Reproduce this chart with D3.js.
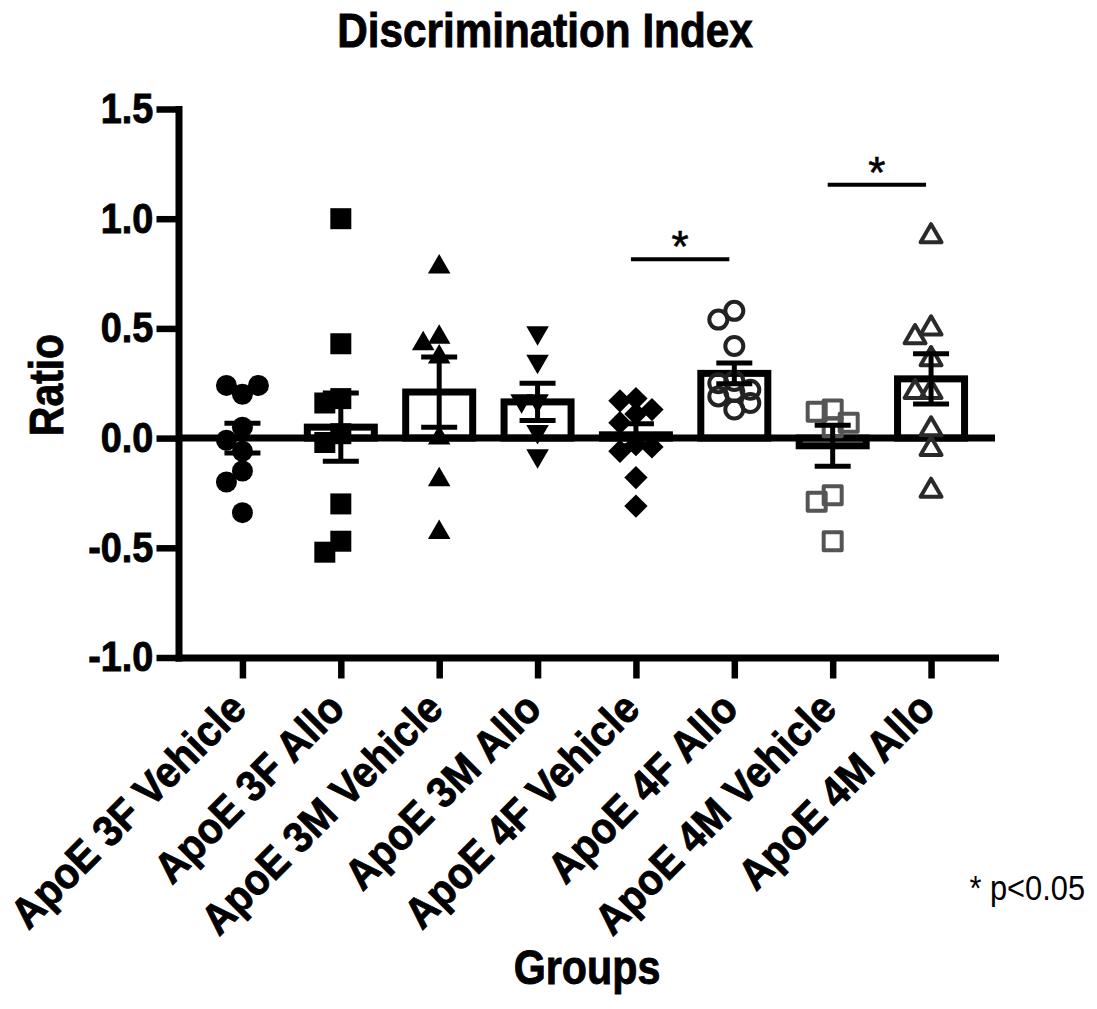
<!DOCTYPE html>
<html>
<head>
<meta charset="utf-8">
<script src="https://cdn.jsdelivr.net/npm/d3@7"></script>
<style>
body { margin: 0; background: #fff; }
text { font-family: "Liberation Sans", Arial, Helvetica, sans-serif; }
.heavy { stroke: #000; stroke-width: 0.9; }
</style>
</head>
<body>
<div id="chart"></div>
<script>
//Chart size
var width = 1097;
var height = 1009;

//Data
var groups = ["ApoE 3F Vehicle", "ApoE 3F Allo", "ApoE 3M Vehicle", "ApoE 3M Allo",
              "ApoE 4F Vehicle", "ApoE 4F Allo", "ApoE 4M Vehicle", "ApoE 4M Allo"];

var apoe3FVehicle = [0.20, 0.24, 0.24, 0.05, -0.01, -0.06, -0.15, -0.20, -0.34];
var apoe3FAllo    = [1.00, 0.43, 0.18, 0.16, 0.02, -0.02, -0.30, -0.47, -0.52];
var apoe3MVehicle = [0.78, 0.46, 0.43, 0.37, 0.00, -0.19, -0.43];
var apoe3MAllo    = [0.48, 0.35, 0.17, 0.17, 0.03, -0.08];
var apoe4FVehicle = [0.18, 0.17, 0.13, 0.11, 0.07, -0.03, -0.06, -0.04, -0.18, -0.31];
var apoe4FAllo    = [0.58, 0.54, 0.42, 0.26, 0.25, 0.22, 0.21, 0.19, 0.16, 0.13];
var apoe4MVehicle = [0.13, 0.12, 0.07, 0.05, -0.26, -0.29, -0.47];
var apoe4MAllo    = [0.92, 0.50, 0.46, 0.36, 0.21, 0.21, 0.04, -0.05, -0.24];

var groupMeans = [0.00, 0.05, 0.21, 0.165, 0.015, 0.295, -0.035, 0.27];
var groupSems  = [0.068, 0.155, 0.16, 0.085, 0.05, 0.047, 0.093, 0.115];

var yTicks = [-1.0, -0.5, 0.0, 0.5, 1.0, 1.5];

//Significant pairs (indexes into groups)
var sigPairs = [[4, 5], [6, 7]];
var sigLabel = "*";

var allPoints = [apoe3FVehicle, apoe3FAllo, apoe3MVehicle, apoe3MAllo,
                 apoe4FVehicle, apoe4FAllo, apoe4MVehicle, apoe4MAllo];

//Marker look for each group
var markerStyles = [
	{type: d3.symbolCircle,   size: Math.PI * 10.5 * 10.5, fill: "#000", stroke: "none", rot: 0},
	{type: d3.symbolSquare,   size: 441, fill: "#000", stroke: "none", rot: 0},
	{type: d3.symbolTriangle, size: 220, fill: "#000", stroke: "none", rot: 0},
	{type: d3.symbolTriangle, size: 220, fill: "#000", stroke: "none", rot: 180},
	{type: d3.symbolSquare,   size: 272, fill: "#000", stroke: "none", rot: 45},
	{type: d3.symbolCircle,   size: Math.PI * 9 * 9, fill: "none", stroke: "#222", rot: 0},
	{type: d3.symbolSquare,   size: 324, fill: "none", stroke: "#555", rot: 0},
	{type: d3.symbolTriangle, size: 190, fill: "none", stroke: "#2a2a2a", rot: 0}
];

var svg = d3.select("#chart").append("svg")
	.attr("width", width)
	.attr("height", height);

//Scales
var y = d3.scaleLinear().domain([-1, 1.5]).range([657.5, 109]);
var x = d3.scalePoint().domain(groups).range([178.5, 995]).padding(0.65);

var axisStroke = 7;

//Title
svg.append("g")
	.attr("transform", "translate(545,47) scale(0.88,1)")
	.append("text")
	.attr("class", "heavy")
	.attr("text-anchor", "middle")
	.attr("font-size", 48)
	.attr("font-weight", "bold")
	.text("Discrimination Index");

//Y axis
var yAxis = svg.append("g")
	.attr("transform", "translate(178.5,0)")
	.call(d3.axisLeft(y)
		.tickValues(yTicks)
		.tickFormat(function(d) { return d.toFixed(1); })
		.tickSize(22)
		.tickSizeOuter(0)
		.tickPadding(6));
yAxis.select(".domain").attr("stroke", "#000").attr("stroke-width", axisStroke).attr("stroke-linecap", "square");
yAxis.selectAll(".tick line").attr("stroke", "#000").attr("stroke-width", 6.5);
yAxis.selectAll(".tick text")
	.attr("class", "heavy")
	.attr("fill", "#000")
	.attr("font-size", 42)
	.attr("font-weight", "bold")
	.attr("font-family", "'Liberation Sans', Arial, sans-serif")
	.attr("transform", "scale(0.9,1)");

//X axis
var xAxis = svg.append("g")
	.attr("transform", "translate(0," + y(-1) + ")")
	.call(d3.axisBottom(x).tickSize(21).tickSizeOuter(0).tickFormat(""));
xAxis.select(".domain").attr("stroke", "#000").attr("stroke-width", axisStroke).attr("stroke-linecap", "square");
xAxis.selectAll(".tick line").attr("stroke", "#000").attr("stroke-width", 6.5);

//Rotated group labels
svg.selectAll(".xlabel")
	.data(groups)
	.enter()
	.append("g")
	.attr("class", "xlabel")
	.attr("transform", function(d) { return "translate(" + (x(d) + 6) + ",711) rotate(-45) scale(0.93,1)"; })
	.append("text")
	.attr("class", "heavy")
	.attr("text-anchor", "end")
	.attr("font-size", 43)
	.attr("font-weight", "bold")
	.text(function(d) { return d; });

//Axis titles
svg.append("g")
	.attr("transform", "translate(63,385) rotate(-90) scale(0.85,1)")
	.append("text")
	.attr("class", "heavy")
	.attr("text-anchor", "middle")
	.attr("font-size", 48)
	.attr("font-weight", "bold")
	.text("Ratio");

svg.append("g")
	.attr("transform", "translate(587,984) scale(0.86,1)")
	.append("text")
	.attr("class", "heavy")
	.attr("text-anchor", "middle")
	.attr("font-size", 48)
	.attr("font-weight", "bold")
	.text("Groups");

svg.append("g")
	.attr("transform", "translate(1085,900) scale(0.88,1)")
	.append("text")
	.attr("text-anchor", "end")
	.attr("font-size", 35)
	.text("* p<0.05");

//Zero line
svg.append("line")
	.attr("x1", 178.5)
	.attr("x2", 995)
	.attr("y1", y(0))
	.attr("y2", y(0))
	.attr("stroke", "#000")
	.attr("stroke-width", axisStroke);

//Bars (mean)
var barWidth = 67;
svg.selectAll(".bar")
	.data(groups)
	.enter()
	.append("rect")
	.attr("class", "bar")
	.attr("x", function(d) { return x(d) - barWidth / 2; })
	.attr("y", function(d, i) { return y(Math.max(0, groupMeans[i])); })
	.attr("width", barWidth)
	.attr("height", function(d, i) { return Math.abs(y(groupMeans[i]) - y(0)); })
	.attr("fill", "none")
	.attr("stroke", "#000")
	.attr("stroke-width", 7);

//Spread the points sideways so they do not sit on top of each other
function spreadPoints(values, cx)
{
	var step = 16;
	var minDist = 18;
	var offsets = [0, -step, step];
	var placed = [];
	values.forEach(function(v)
	{
		var py = y(v);
		var best = null;
		var bestDist = -1;
		for (var k = 0; k < offsets.length; k++)
		{
			var px = cx + offsets[k];
			var d = Infinity;
			placed.forEach(function(p)
			{
				d = Math.min(d, Math.hypot(p.x - px, p.y - py));
			});
			if (d >= minDist) { best = px; bestDist = d; break; }
			if (d > bestDist) { bestDist = d; best = px; }
		}
		placed.push({x: best, y: py, v: v});
	});
	return placed;
}

//Points
allPoints.forEach(function(values, gi)
{
	var st = markerStyles[gi];
	var pts = spreadPoints(values, x(groups[gi]));
	var sym = d3.symbol().type(st.type).size(st.size);
	svg.append("g")
		.attr("class", "points")
		.selectAll("path")
		.data(pts)
		.enter()
		.append("path")
		.attr("d", sym)
		.attr("transform", function(p) { return "translate(" + p.x + "," + p.y + ") rotate(" + st.rot + ")"; })
		.attr("fill", st.fill)
		.attr("stroke", st.stroke)
		.attr("stroke-width", st.stroke === "none" ? 0 : 4)
		.attr("stroke-linejoin", "round");
});

//Error bars (SEM)
var capHalf = 18;
var err = svg.selectAll(".err")
	.data(groups)
	.enter()
	.append("g")
	.attr("class", "err")
	.attr("stroke", "#000")
	.attr("stroke-width", 5);
err.append("line")
	.attr("x1", function(d) { return x(d); })
	.attr("x2", function(d) { return x(d); })
	.attr("y1", function(d, i) { return y(groupMeans[i] + groupSems[i]); })
	.attr("y2", function(d, i) { return y(groupMeans[i] - groupSems[i]); });
err.append("line")
	.attr("x1", function(d) { return x(d) - capHalf; })
	.attr("x2", function(d) { return x(d) + capHalf; })
	.attr("y1", function(d, i) { return y(groupMeans[i] + groupSems[i]); })
	.attr("y2", function(d, i) { return y(groupMeans[i] + groupSems[i]); });
err.append("line")
	.attr("x1", function(d) { return x(d) - capHalf; })
	.attr("x2", function(d) { return x(d) + capHalf; })
	.attr("y1", function(d, i) { return y(groupMeans[i] - groupSems[i]); })
	.attr("y2", function(d, i) { return y(groupMeans[i] - groupSems[i]); });

//Significance lines, placed a little above the highest point of the pair
var sig = svg.selectAll(".sig")
	.data(sigPairs)
	.enter()
	.append("g")
	.attr("class", "sig");
function sigLevel(pair)
{
	return Math.max(d3.max(allPoints[pair[0]]), d3.max(allPoints[pair[1]])) + 0.235;
}
sig.append("line")
	.attr("x1", function(p) { return x(groups[p[0]]) - 5; })
	.attr("x2", function(p) { return x(groups[p[1]]) - 5; })
	.attr("y1", function(p) { return y(sigLevel(p)); })
	.attr("y2", function(p) { return y(sigLevel(p)); })
	.attr("stroke", "#000")
	.attr("stroke-width", 4);
sig.append("text")
	.attr("x", function(p) { return (x(groups[p[0]]) + x(groups[p[1]])) / 2 - 5; })
	.attr("y", function(p) { return y(sigLevel(p)) + 3; })
	.attr("text-anchor", "middle")
	.attr("font-size", 44)
	.attr("stroke", "#000")
	.attr("stroke-width", 0.6)
	.text(sigLabel);
</script>
</body>
</html>
